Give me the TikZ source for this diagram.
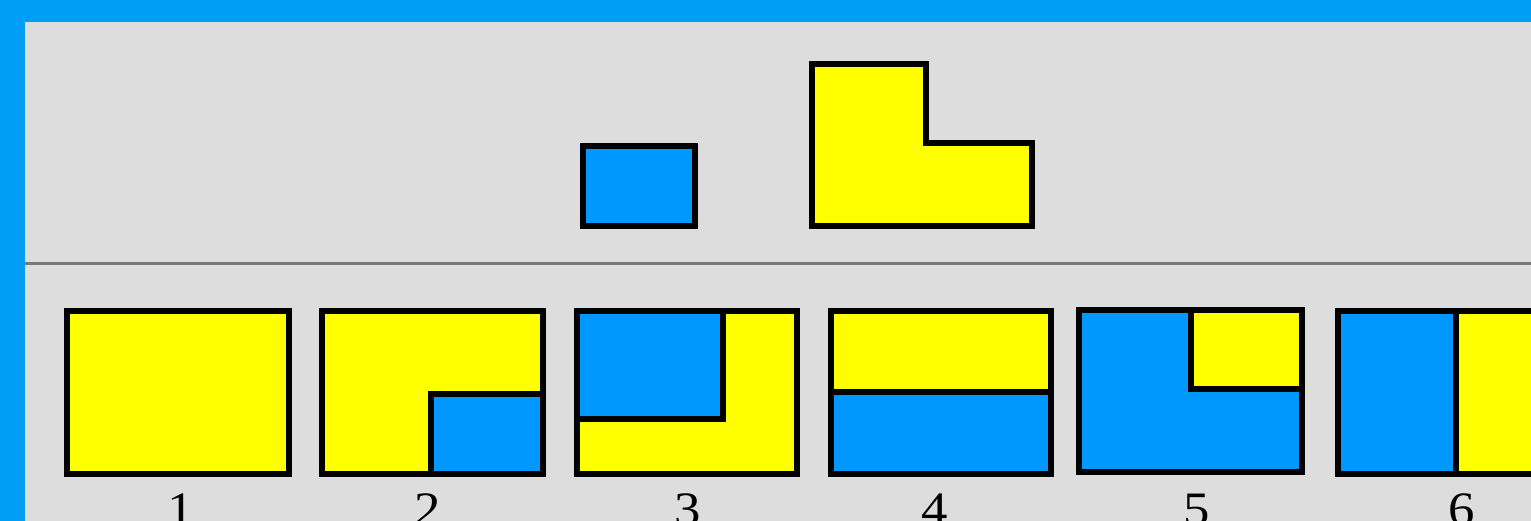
\documentclass[tikz,border=0pt]{standalone}
\usepackage{fontspec}
\setmainfont{Liberation Serif}
\definecolor{frameblue}{RGB}{0,158,245}
\definecolor{pieceblue}{RGB}{0,152,255}
\definecolor{pieceyellow}{RGB}{255,255,0}
\definecolor{bggrey}{RGB}{221,221,221}
\definecolor{rulegrey}{RGB}{120,120,120}
\begin{document}
\begin{tikzpicture}[x=1pt,y=-1pt,
  piece/.style={draw=black,line width=5.5pt,line join=miter},
  bluepiece/.style={piece,fill=pieceblue},
  yellowpiece/.style={piece,fill=pieceyellow},
  lbl/.style={anchor=base,inner sep=0pt,font=\fontsize{48}{52}\selectfont,xscale=1.1}]
\useasboundingbox (0,0) rectangle (1531,521);
\clip (0,0) rectangle (1531,521);
\fill[frameblue] (0,0) rectangle (1531,521);
\fill[bggrey] (25,22) rectangle (1531,521);
\draw[rulegrey,line width=3pt] (25,264) -- (1531,264);
% top pieces
\draw[bluepiece] (583,146) rectangle (695,226);
\draw[yellowpiece] (812,64) -- (926,64) -- (926,143) -- (1032,143) -- (1032,226) -- (812,226) -- cycle;
% box 1
\draw[yellowpiece] (67,311) rectangle (289,474);
% box 2
\draw[yellowpiece] (322,311) rectangle (543,474);
\draw[bluepiece] (431,394) rectangle (543,474);
% box 3
\draw[yellowpiece] (577,311) rectangle (797,474);
\draw[bluepiece] (577,311) rectangle (723,419);
% box 4
\draw[yellowpiece] (831,311) rectangle (1051,474);
\draw[bluepiece] (831,392) rectangle (1051,474);
% box 5
\draw[bluepiece] (1079,310) rectangle (1302,472);
\draw[yellowpiece] (1191,310) rectangle (1302,389);
% box 6
\draw[yellowpiece] (1338,311) rectangle (1600,474);
\draw[bluepiece] (1338,311) rectangle (1456,474);
% labels
\node[lbl] (l1) at (181,525) {1};
\node[lbl] (l2) at (428,525) {2};
\node[lbl] (l3) at (688,525) {3};
\node[lbl] (l4) at (935,525) {4};
\node[lbl] (l5) at (1197,525) {5};
\node[lbl] (l6) at (1462,525) {6};
\end{tikzpicture}
\end{document}
